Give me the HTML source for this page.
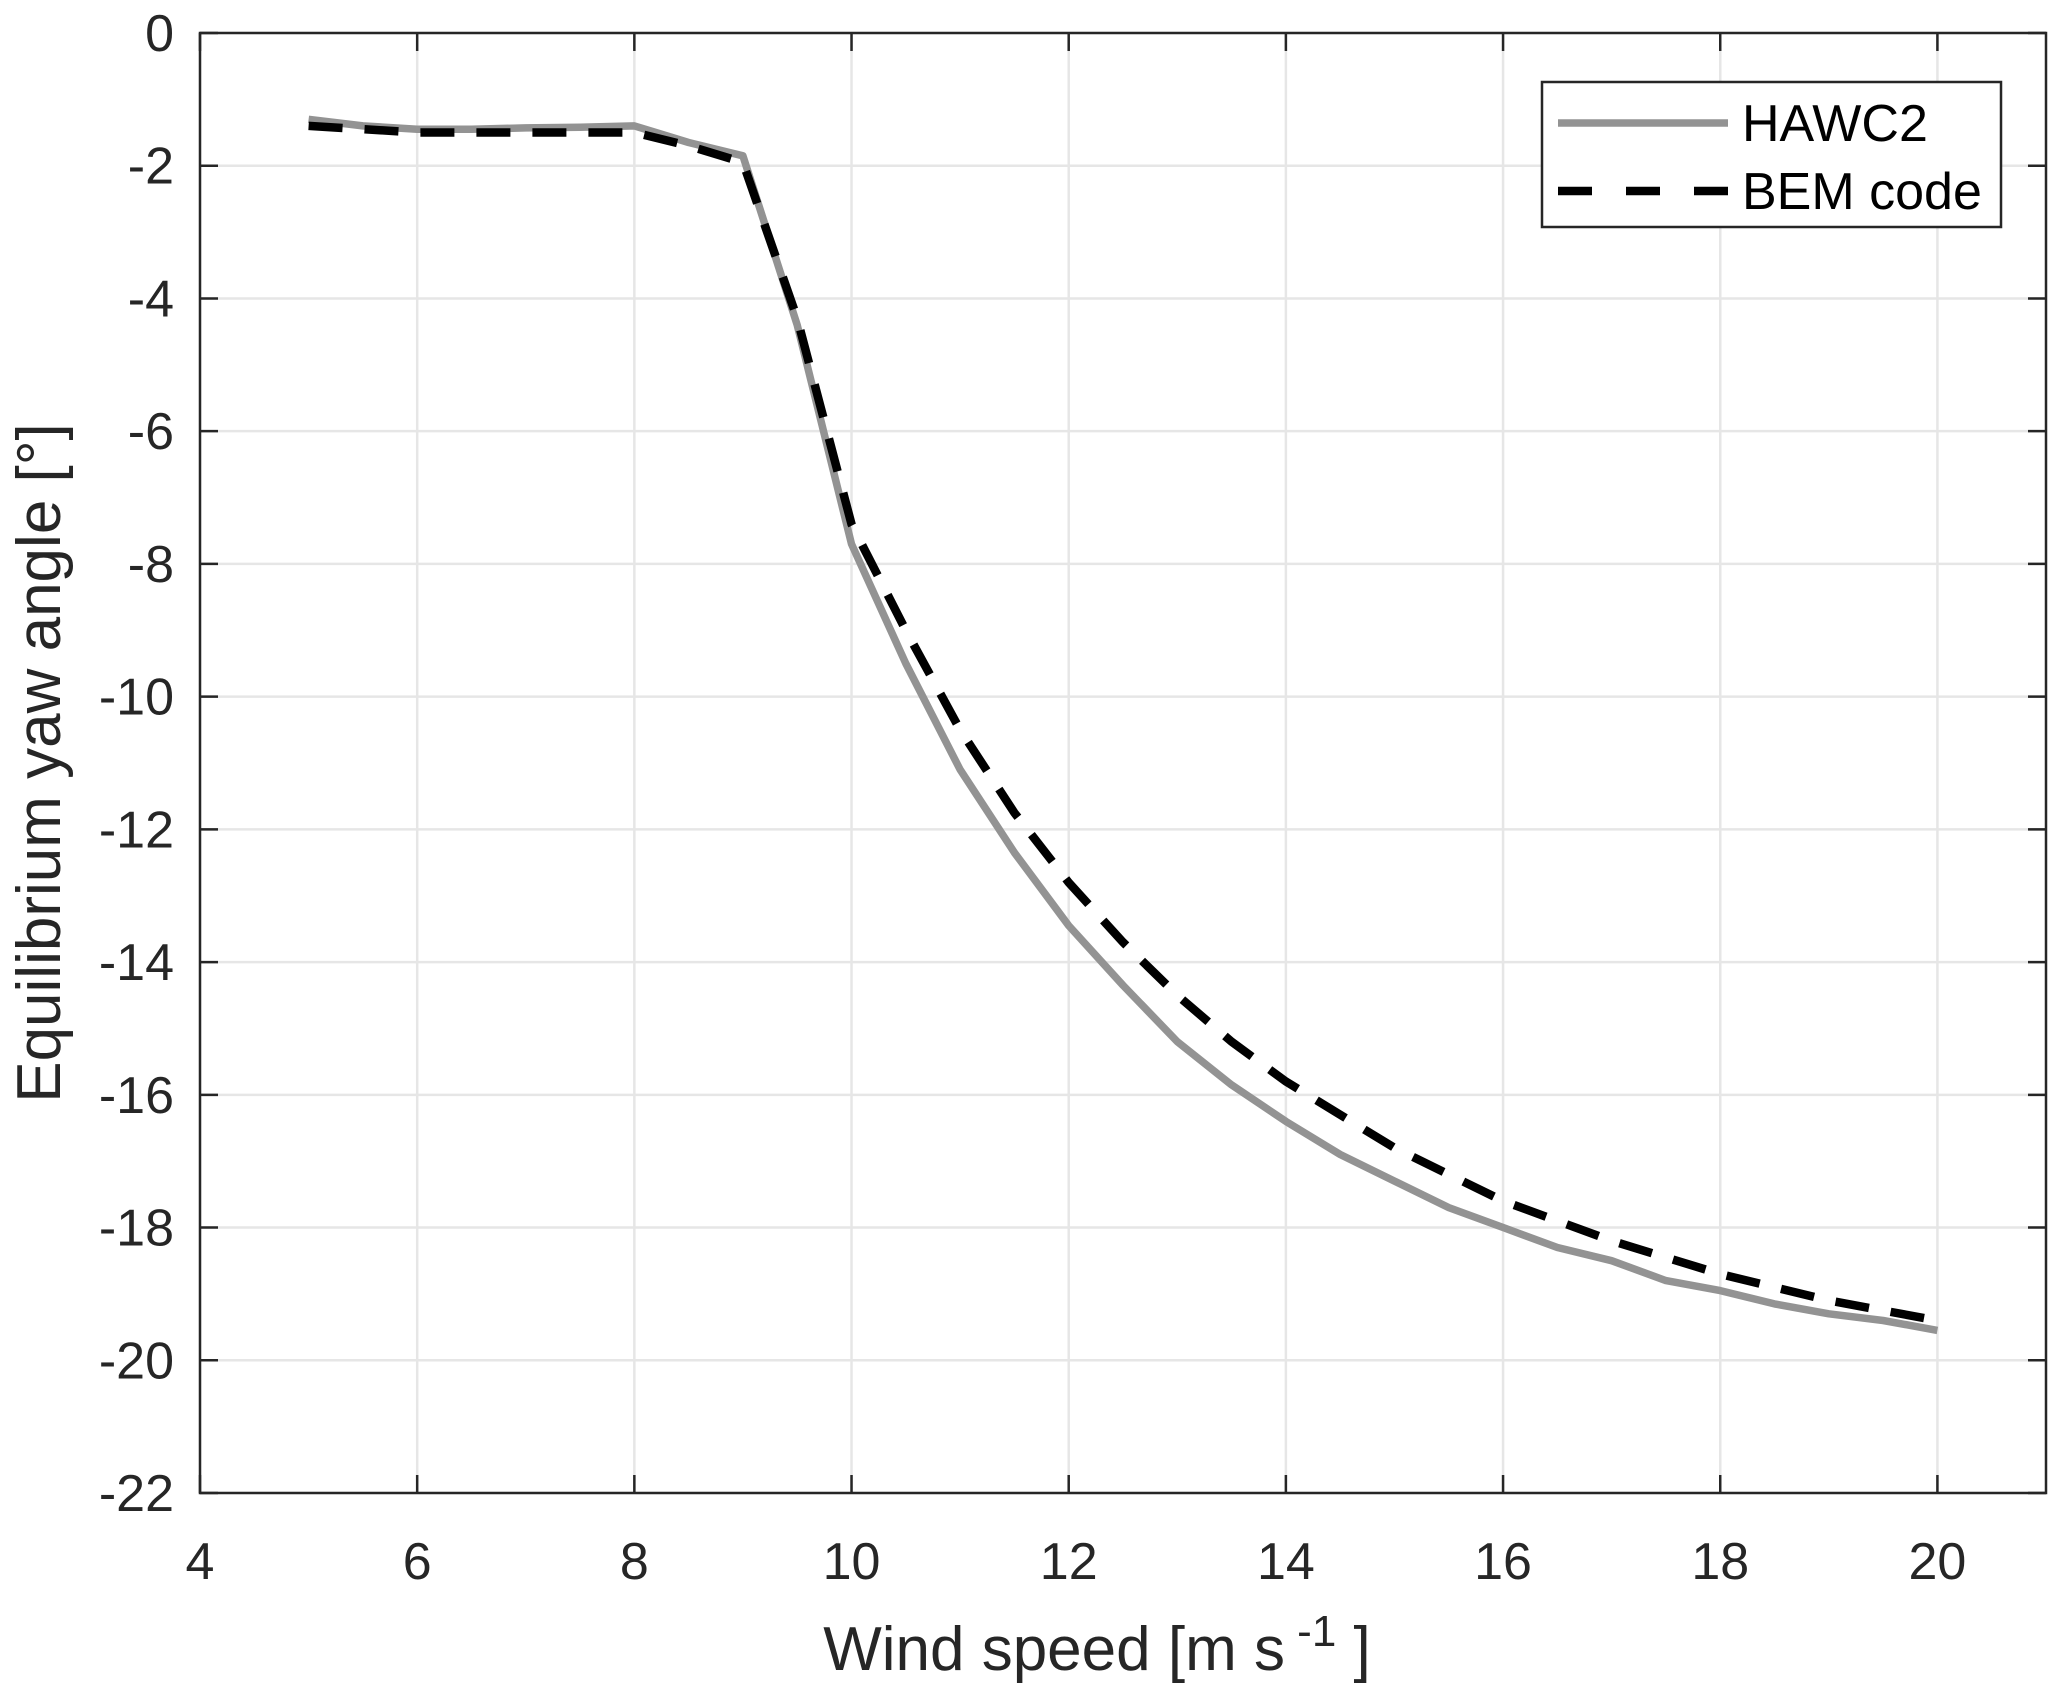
<!DOCTYPE html>
<html><head><meta charset="utf-8"><style>
html,body{margin:0;padding:0;background:#fff;}
svg{display:block;font-family:"Liberation Sans",Arial,sans-serif;}
</style></head><body>
<svg id="chart" width="2067" height="1694" viewBox="0 0 2067 1694" xmlns="http://www.w3.org/2000/svg">
<g id="grid"></g>
<g id="series"></g>
<g id="axes"></g>
<text x="1097" y="1670" text-anchor="middle" font-size="62" fill="#262626">Wind speed [m  s<tspan dy="-24" font-size="44"> -1</tspan><tspan dy="24"> ]</tspan></text>
<text transform="translate(60,763) rotate(-90)" text-anchor="middle" font-size="62" fill="#262626">Equilibrium yaw angle [°]</text>
<g>
<rect x="1542" y="82" width="459" height="145" fill="#fff" stroke="#262626" stroke-width="2.5"/>
<line x1="1558" y1="123" x2="1728" y2="123" stroke="#939393" stroke-width="7.5"/>
<text x="1742" y="141" font-size="52" fill="#000">HAWC2</text>
<line x1="1558" y1="191" x2="1728" y2="191" stroke="#000" stroke-width="8.5" stroke-dasharray="34,34"/>
<text x="1742" y="209" font-size="52" fill="#000">BEM code</text>
</g>
</svg>
<script>
const xTicks=[4,6,8,10,12,14,16,18,20];
const yTicks=[0,-2,-4,-6,-8,-10,-12,-14,-16,-18,-20,-22];
const windSpeed=[5,5.5,6,6.5,7,7.5,8,8.5,9,9.5,10,10.5,11,11.5,12,12.5,13,13.5,14,14.5,15,15.5,16,16.5,17,17.5,18,18.5,19,19.5,20];
const hawc2=[-1.3,-1.4,-1.45,-1.45,-1.43,-1.42,-1.4,-1.65,-1.85,-4.4,-7.7,-9.5,-11.1,-12.35,-13.45,-14.35,-15.2,-15.85,-16.4,-16.9,-17.3,-17.7,-18.0,-18.3,-18.5,-18.8,-18.95,-19.15,-19.3,-19.4,-19.55];
const bem=[-1.4,-1.45,-1.5,-1.5,-1.5,-1.5,-1.5,-1.7,-1.95,-4.3,-7.4,-9.0,-10.5,-11.75,-12.8,-13.7,-14.5,-15.2,-15.8,-16.3,-16.8,-17.2,-17.6,-17.9,-18.2,-18.45,-18.7,-18.9,-19.1,-19.25,-19.4];
const L=200,R=2046,T=33,B=1493,xmin=4,xmax=21,ymin=-22,ymax=0;
const sx=v=>L+(v-xmin)/(xmax-xmin)*(R-L);
const sy=v=>T+(ymax-v)/(ymax-ymin)*(B-T);
const NS='http://www.w3.org/2000/svg';
function mk(tag,attrs,parent){const e=document.createElementNS(NS,tag);for(const k in attrs)e.setAttribute(k,attrs[k]);parent.appendChild(e);return e;}
const grid=document.getElementById('grid'),axes=document.getElementById('axes'),series=document.getElementById('series');
xTicks.forEach(t=>{
  const g=mk('line',{x1:sx(t),x2:sx(t),y1:T,y2:B,stroke:'#e6e6e6','stroke-width':2.5},grid);
  
  
  [[B,B-18],[T,T+18]].forEach(p=>{const k=mk('line',{x1:sx(t),x2:sx(t),y1:p[0],y2:p[1],stroke:'#262626','stroke-width':2.5},axes);
    
    });
  const lb=mk('text',{x:sx(t),y:B+86,'text-anchor':'middle','font-size':52,fill:'#262626'},axes);
  lb.textContent=t;
  
  
});
yTicks.forEach(t=>{
  const g=mk('line',{x1:L,x2:R,y1:sy(t),y2:sy(t),stroke:'#e6e6e6','stroke-width':2.5},grid);
  
  
  [[L,L+18],[R,R-18]].forEach(p=>{const k=mk('line',{x1:p[0],x2:p[1],y1:sy(t),y2:sy(t),stroke:'#262626','stroke-width':2.5},axes);
    
    });
  const lb=mk('text',{x:L-26,y:sy(t)+18,'text-anchor':'end','font-size':52,fill:'#262626'},axes);
  lb.textContent=t;
  
  
});
const frame=mk('rect',{x:L,y:T,width:R-L,height:B-T,fill:'none',stroke:'#262626','stroke-width':2.5},axes);


const pts=a=>a.map((v,i)=>sx(windSpeed[i]).toFixed(1)+','+sy(v).toFixed(1)).join(' ');
const h=mk('polyline',{points:pts(hawc2),fill:'none',stroke:'#939393','stroke-width':7.5,'stroke-linejoin':'round'},series);


const b=mk('polyline',{points:pts(bem),fill:'none',stroke:'#000','stroke-width':8.5,'stroke-dasharray':'34,22'},series);


</script>
</body></html>
